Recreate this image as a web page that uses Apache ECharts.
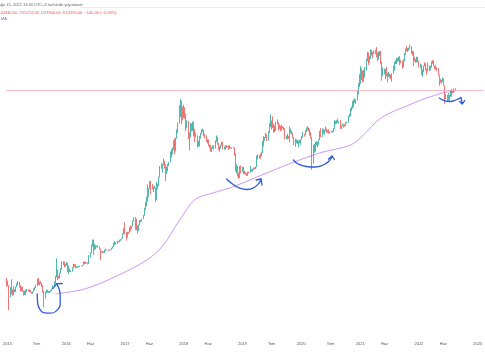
<!DOCTYPE html>
<html><head><meta charset="utf-8">
<script src="https://cdn.jsdelivr.net/npm/echarts@6/dist/echarts.min.js"></script>
<style>html,body{margin:0;padding:0;background:#fff}#c{width:485px;height:360px}</style>
</head><body><div id="c"></div>
<script>
// ---- data (BTC weekly, log scale) ----
const firstWeek = '2014-12-29';
const firstOpen = 320;
const weeklyClose = [264,
265,210,253,226,224,234,244,260,275,284,260,242,254,236,224,225,240,242,236,240,230,224,233,244,257,271,310,279,289,281,264,232,229,230,240,230,231,233,240,249,263,284,325,373,330,324,358,395,463,440,422,
432,448,380,395,373,374,406,438,434,407,412,409,417,420,420,428,460,447,459,456,444,527,577,665,760,665,675,650,664,658,624,590,585,581,573,608,607,609,603,612,616,641,655,702,704,706,740,732,766,776,792,896,
998,907,820,920,917,1015,1000,1050,1170,1270,1230,970,965,1080,1180,1180,1245,1350,1560,1730,2030,2190,2520,2950,2650,2550,2500,2520,1930,2750,2740,3230,4100,4060,4380,4600,4200,3700,3780,4370,4600,5680,6000,6140,7370,5950,8000,9700,11200,15000,19000,14000,13880,
16200,13600,11500,11700,8200,8100,10400,9600,11450,9550,8200,8450,6850,7000,8350,8900,9400,9650,8500,8230,7350,7700,6780,6480,6150,6350,6750,6350,7400,8200,7050,6300,6400,6700,7300,6250,6500,6700,6600,6550,6300,6400,6350,6400,6350,5600,4000,4100,3500,3250,3950,3800,
4050,3550,3540,3500,3420,3630,3610,3850,3800,3900,4000,3980,4100,5050,5100,5300,5280,5750,6970,8000,8050,8700,7630,8980,10700,10750,11300,10200,10500,9500,11500,11400,10350,10150,9600,10400,10300,9980,8050,8150,8300,8250,9200,9200,9030,8100,7050,7400,7500,7100,7500,7200,
7750,8100,8650,8600,9350,10100,9900,9650,8550,8050,5350,5800,6400,6870,6900,7150,7700,8900,8750,9700,9180,9450,9750,9350,9300,9100,9300,9250,9400,9950,11100,11650,11850,11650,11700,10250,10700,11000,10750,10650,11400,11500,13050,13550,15500,16000,18400,18200,19150,19250,23450,26450,
32000,38200,35800,32300,33100,38900,48500,57400,45200,51000,59000,57400,55800,58000,59800,56200,49000,56600,58200,46400,34700,35600,35800,39100,35600,34700,35300,34200,31800,35400,39900,45200,47100,49300,48800,51800,48300,47200,42800,49200,54900,61500,61000,61800,63300,65500,59700,57200,49400,48400,46700,50800,
47300,41900,43100,36300,37900,42400,42100,38400,37700,38400,38800,41300,46800,46400,42200,39700,39400,38500,34300,30100,29400,29500,29900,26600,20500,21000,19300,20800,20800,22600,23300,23200,24330,24190];
const weeklyHigh = [320,
300,270,258,310,245,265,247,262,283,298,290,270,262,262,238,237,245,248,245,245,241,232,234,252,258,272,314,320,294,298,285,272,237,233,242,245,236,236,242,250,272,295,335,502,388,336,360,400,470,468,466,
440,465,452,425,398,380,408,442,440,438,418,418,420,422,424,430,465,468,464,460,456,540,580,690,775,770,703,680,673,675,660,628,600,592,587,612,627,612,612,614,620,642,660,720,750,728,752,746,770,778,795,900,
1000,1150,915,925,925,1030,1070,1060,1200,1290,1300,1250,1070,1100,1210,1215,1250,1360,1610,1845,2060,2760,2530,2980,2980,2770,2620,2660,2530,2920,2800,3280,4200,4480,4400,4980,4740,4370,4120,4400,4620,5860,6200,6440,7610,7900,8100,9750,11400,17100,19666,19000,16500,
17250,16300,14100,12050,11900,9100,11300,11200,11700,11700,9950,9100,8500,7500,8400,9000,9750,9950,9650,8880,8500,7750,7750,6900,6850,6450,6750,6800,7600,8500,8200,7150,6600,6850,7300,7410,6600,6800,6750,6700,6700,6800,6500,6450,6550,6400,5650,4400,4200,3600,4200,4250,
4100,4150,3750,3650,3550,3680,3700,4200,3900,3950,4050,4080,4150,5350,5470,5400,5600,5850,7500,8350,8200,9000,8750,9400,11300,13880,12000,13200,11100,10650,11650,12300,11500,10950,10600,10900,10450,10350,10050,8500,8850,8400,10500,9950,9500,9100,8200,7900,7750,7650,7550,7700,
7800,8450,9200,8800,9600,10200,10500,10200,9950,9200,8200,6900,6950,7300,7450,7300,7750,9450,10050,9950,9950,9650,10400,9950,9600,9800,9300,9450,9450,10100,12100,11850,12100,12450,11800,12100,10700,11200,11000,10950,11500,11700,13350,14000,15900,16500,18800,19500,19900,19400,24200,28400,
34800,41900,40100,37800,38500,41000,49700,58350,57500,52600,61800,60500,58400,60000,61300,64900,57500,58400,59500,59600,46600,40800,39500,39500,41300,35800,36600,35400,34600,35400,42600,46400,48100,50500,50500,51900,52900,48800,47300,49200,56500,62900,67000,63700,64200,69000,66300,59900,59000,51900,49500,51900,
52100,47600,44400,43500,38900,42600,45800,44700,39800,45400,42400,42400,46900,48200,47500,42400,42900,40800,40000,34300,31300,30600,32400,31600,26900,22000,21500,22500,21600,24300,24700,23700,25000,25212];
const weeklyLow = [262,
264,152,205,220,212,215,230,232,258,271,256,236,236,232,213,215,216,232,232,232,228,222,222,232,240,252,266,270,272,276,258,228,162,198,225,228,226,226,232,236,246,262,282,323,305,315,315,355,385,430,410,
412,425,365,350,364,365,370,400,412,398,402,404,408,411,415,419,426,440,441,448,436,440,510,570,660,545,610,617,645,645,618,480,575,565,567,565,597,600,592,598,607,612,628,650,680,690,700,725,728,750,770,790,
880,870,755,810,880,910,940,990,1050,1170,960,960,890,940,1080,1150,1170,1240,1340,1540,1670,1850,2050,2480,2200,2460,2310,2490,1840,1920,2460,2650,3220,3950,3600,4280,3950,2970,3500,3730,4200,4560,5120,5500,6100,5500,5900,7900,9000,11300,13000,11000,12000,
12750,12500,9400,10000,7800,6000,8100,9300,9400,8350,7300,8100,6450,6550,6600,7900,8750,9150,8300,7950,7300,7050,6640,6300,5850,5780,6260,6100,6300,7350,6900,6050,5880,6250,6700,6150,6150,6100,6400,6450,6100,6250,6300,6250,6300,5350,3700,3550,3300,3122,3200,3550,
3650,3500,3470,3460,3350,3360,3530,3600,3700,3680,3840,3900,3930,4080,4900,5000,5000,5250,5700,6600,7500,8000,7450,7550,8950,10300,9700,10100,9100,9150,9400,11000,9500,9900,9350,9600,9950,9600,7750,7800,7800,7900,7300,8950,8700,8000,6800,6550,7100,7000,6450,7100,
6850,7700,8050,8250,8550,9150,9550,9300,8450,7950,3850,4450,5700,5850,6750,6500,6850,7650,8100,8200,8850,8650,9350,9100,8950,8850,8950,9100,9050,9250,9900,11000,11150,11350,11150,9900,9850,10650,10150,10400,10550,11200,11400,12900,13200,14800,15800,16200,18000,17600,19000,21800,
25900,27700,30400,28800,29300,32300,38000,47100,43000,45000,49300,53300,50400,55500,55500,51500,47000,48800,53000,43800,30000,33500,34800,31000,33300,28800,32700,32100,31000,29300,35200,37600,43800,43900,46400,46600,42800,44700,39600,40800,46900,53800,59500,58000,59900,62300,55600,53300,42000,46800,45500,45600,
45700,40600,39700,34000,32900,36300,41700,38000,34300,37200,37200,38200,40500,44300,42000,39200,38600,37600,33700,26700,28600,28000,29300,26600,17600,19600,18600,19000,18900,20700,20700,22400,22700,23900];
const lastPrice = 24190;

// 200-week moving average
const maDates  = ['2015-10-25','2016-04-27','2016-10-27','2017-05-17','2017-08-28','2017-11-28','2018-03-12','2018-06-30','2018-10-31','2019-05-01','2019-11-01','2020-05-04','2020-11-03','2021-02-03','2021-04-23','2021-07-18','2021-10-18','2022-01-05','2022-03-19','2022-06-07','2022-08-15'];
const maValues = [221,248,326,483,682,1158,1950,2258,2592,3418,4505,5737,6818,8989,12126,14580,16740,19000,20840,22840,23400];

// x-axis tick labels
const tickDates  = ['2015-01-01','2015-07-01','2016-01-01','2016-06-01','2017-01-01','2017-06-01','2018-01-01','2018-06-01','2019-01-01','2019-07-01','2020-01-01','2020-07-01','2021-01-01','2021-06-01','2022-01-01','2022-06-01','2023-01-01'];
const tickLabels = ['2015','Tem','2016','Haz','2017','Haz','2018','Haz','2019','Tem','2020','Tem','2021','Haz','2022','Haz','2023'];

// hand-drawn blue annotations (date, price)
const annoLoop2015  = [['2015-07-05',221],['2015-07-08',178],['2015-07-23',154],['2015-08-13',144],['2015-09-25',142],['2015-11-07',153],['2015-11-25',183],['2015-11-24',221],['2015-11-13',259],['2015-11-01',278]];
const arrowLoop2015 = [['2015-10-11',250],['2015-11-01',278],['2015-12-07',281]];
const anno2018  = [['2018-09-24',3117],['2018-10-31',2778],['2018-12-13',2533],['2019-01-30',2447],['2019-03-14',2563],['2019-04-14',2843],['2019-04-26',3117]];
const arrow2018 = [['2019-03-27',3046],['2019-04-26',3117],['2019-05-02',2715]];
const anno2020  = [['2019-11-13',4828],['2019-12-13',4403],['2020-02-01',4157],['2020-03-28',4109],['2020-05-16',4302],['2020-06-22',4717],['2020-07-10',5292]];
const arrow2020 = [['2020-06-19',4940],['2020-07-10',5292],['2020-07-25',4884]];
const anno2022  = [['2022-05-08',20120],['2022-06-07',19000],['2022-07-14',18570],['2022-08-19',19220],['2022-09-19',20360]];
const arrow2022 = [['2022-09-19',20360],['2022-09-28',17530],['2022-09-10',18570],['2022-09-28',17530],['2022-10-13',19000]];

// ---- chart ----
const DAY = 86400000;
const toT = d => Date.parse(d + 'T00:00:00Z');
const t0 = toT(firstWeek);
const xMin = Date.UTC(2014, 11, 24), xMax = Date.UTC(2023, 1, 7);
const candles = weeklyClose.map((c, i) => {
  const o = i === 0 ? firstOpen : weeklyClose[i - 1];
  const h = Math.max(weeklyHigh[i], o, c);
  const l = Math.min(weeklyLow[i], o, c);
  return [t0 + i * 7 * DAY, o, c, l, h];
});
const tickTimes = tickDates.map(toT);
const maData = maDates.map((d, i) => [toT(d), maValues[i]]);
const conv = arr => arr.map(p => [toT(p[0]), p[1]]);

const blue = '#2f5bd8';
const annoSeries = (data, smooth) => ({
  type: 'line', data: conv(data), smooth: smooth ? 0.5 : false, symbol: 'none',
  lineStyle: { color: blue, width: 1.3, cap: 'round', join: 'round' }, silent: true, z: 5
});

const chart = echarts.init(document.getElementById('c'), null, { renderer: 'canvas', width: 485, height: 360 });
chart.setOption({
  animation: false,
  backgroundColor: '#ffffff',
  grid: { left: 0, right: 0, top: 20, bottom: 24, containLabel: false },
  xAxis: {
    type: 'value', min: xMin, max: xMax, scale: true,
    axisLine: { show: false }, axisTick: { show: false }, splitLine: { show: false },
    axisLabel: {
      customValues: tickTimes,
      formatter: v => { const k = tickTimes.indexOf(+v); return k >= 0 ? tickLabels[k] : ''; },
      color: '#555', fontSize: 4, fontFamily: 'Liberation Sans', margin: 6, hideOverlap: false,
      showMinLabel: true, showMaxLabel: true
    }
  },
  yAxis: { type: 'log', min: 83.9, max: 121300, show: false, splitLine: { show: false } },
  graphic: [
    { type: 'text', left: -2, top: 2.5, style: { text: 'Ağu 15, 2022 13:40 UTC+3 tarihinde yayınlandı', fill: '#666', font: '4px "Liberation Sans"' } },
    { type: 'line', shape: { x1: 80, y1: 7.5, x2: 485, y2: 7.5 }, style: { stroke: '#e6e6e6', lineWidth: 0.8 } },
    { type: 'text', left: -2, top: 11, style: { text: 'A24330.00  Y25212.00  D23900.00  K24190.00  −140.00 (−0.58%)', fill: '#ef5350', font: '4px "Liberation Sans"' } },
    { type: 'text', left: 1, top: 16.5, style: { text: 'MA', fill: '#a35be0', font: '4px "Liberation Sans"' } }
  ],
  series: [
    {
      type: 'line', data: maData, smooth: 0.3, symbol: 'none', silent: true, z: 1,
      lineStyle: { color: '#c58af9', width: 0.9 },
      markLine: {
        silent: true, symbol: 'none', label: { show: false }, precision: 2,
        lineStyle: { color: '#f5a9b8', width: 0.8, type: 'solid' },
        data: [{ yAxis: lastPrice }]
      }
    },
    {
      type: 'candlestick', data: candles, barWidth: 1.2, z: 3,
      itemStyle: { color: '#26a69a', color0: '#ef5350', borderColor: '#26a69a', borderColor0: '#ef5350', borderWidth: 0.8 }
    },
    annoSeries(annoLoop2015, true), annoSeries(arrowLoop2015, false),
    annoSeries(anno2018, true), annoSeries(arrow2018, false),
    annoSeries(anno2020, true), annoSeries(arrow2020, false),
    annoSeries(anno2022, true), annoSeries(arrow2022, false)
  ]
});
</script></body></html>
